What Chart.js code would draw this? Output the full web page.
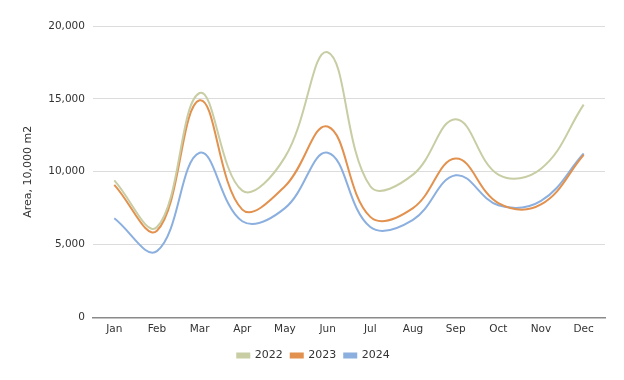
<!DOCTYPE html>
<html>
<head>
<meta charset="utf-8">
<script src="https://cdn.jsdelivr.net/npm/chart.js@4"></script>
<style>
  html, body { margin: 0; padding: 0; background: #fff; }
  #wrap { width: 624px; height: 380px; }
</style>
</head>
<body>
<div id="wrap"><canvas id="chart" width="624" height="380"></canvas></div>
<script>
// Monthly area values (10,000 m2)
const months = ["Jan", "Feb", "Mar", "Apr", "May", "Jun", "Jul", "Aug", "Sep", "Oct", "Nov", "Dec"];
const area2022 = [9400, 6200, 15400, 8700, 11000, 18200, 9000, 9800, 13600, 9800, 10200, 14600];
const area2023 = [9100, 5950, 14900, 7400, 9000, 13100, 6900, 7500, 10900, 7850, 7750, 11150];
const area2024 = [6800, 4550, 11300, 6600, 7500, 11300, 6200, 6700, 9750, 7700, 8000, 11250];
const yTicks = [0, 5000, 10000, 15000, 20000];

const fontFamily = "'DejaVu Sans', Verdana, sans-serif";

function series(label, data, color) {
  return {
    label: label,
    data: data,
    borderColor: color,
    backgroundColor: color,
    borderWidth: 2,
    pointRadius: 0,
    tension: 0.4,
    fill: false,
  };
}

const ctx = document.getElementById("chart").getContext("2d");
const chart = new Chart(ctx, {
  type: "line",
  data: {
    labels: months,
    datasets: [
      series("2022", area2022, "#c8cda4"),
      series("2023", area2023, "#e2914e"),
      series("2024", area2024, "#8bafdf"),
    ],
  },
  options: {
    responsive: false,
    animation: false,
    layout: { padding: { top: 26, right: 19, left: 22, bottom: 9 } },
    plugins: {
      legend: {
        position: "bottom",
        labels: {
          boxWidth: 12,
          boxHeight: 4,
          padding: 8,
          color: "#333",
          font: { family: fontFamily, size: 11 },
        },
      },
      tooltip: { enabled: false },
    },
    scales: {
      x: {
        offset: true,
        grid: { display: false, drawTicks: false },
        border: { display: true, color: "#8a8a8a", width: 1.5 },
        ticks: { color: "#333", font: { family: fontFamily, size: 10.5 }, padding: 6 },
      },
      y: {
        min: 0,
        max: 20000,
        afterBuildTicks: (axis) => {
          axis.ticks = yTicks.map((v) => ({ value: v }));
        },
        grid: { color: "#dcdcdc", drawTicks: false },
        border: { display: false },
        ticks: { color: "#333", font: { family: fontFamily, size: 10.5 }, padding: 8 },
        title: {
          display: true,
          text: "Area, 10,000 m2",
          color: "#333",
          font: { family: fontFamily, size: 11 },
          padding: { top: 0, bottom: 5 },
        },
      },
    },
  },
});
</script>
</body>
</html>
